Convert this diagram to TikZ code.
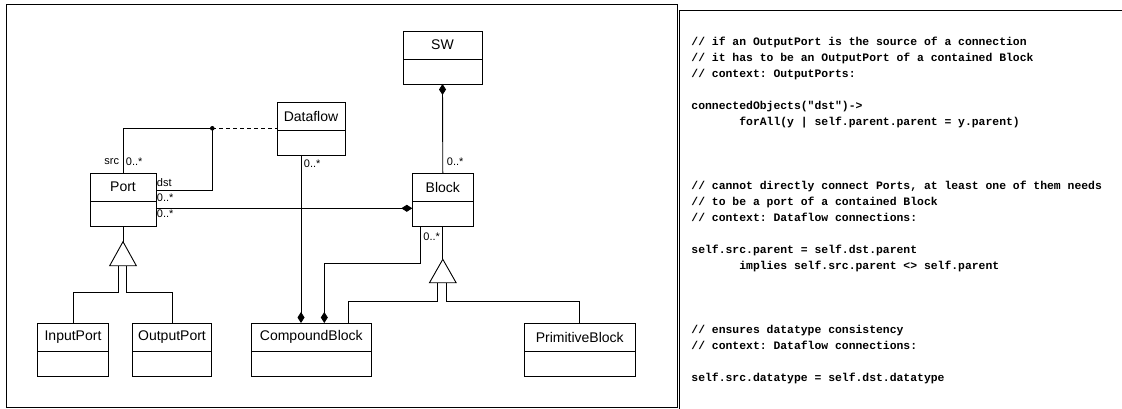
\documentclass[tikz,border=0pt]{standalone}
\usepackage{fontspec}
\setmainfont{Liberation Sans}
\setmonofont{Liberation Mono}
\usetikzlibrary{arrows.meta}

\begin{document}
\begin{tikzpicture}[x=1pt, y=-1pt, line width=0.9pt,
    classhead/.style={draw, fill=white, inner sep=0pt, outer sep=0pt, minimum height=28pt, font=\fontsize{14}{16}\selectfont},
    classbody/.style={draw, fill=white, inner sep=0pt, outer sep=0pt, minimum height=25pt},
    mult/.style={inner sep=0pt, font=\fontsize{11}{12}\selectfont},
    comp/.style={-{Diamond[length=11pt,width=7pt]}},
    owner/.style={{Diamond[length=11pt,width=7pt]}-},
    codeline/.style={anchor=base west, inner sep=0pt, font=\fontsize{11.4}{16}\selectfont\ttfamily\bfseries}]

  \useasboundingbox (0,0) rectangle (1122,409);

  % frames
  \draw (6,4) rectangle (677,407.5);
  \draw (679.5,409) |- (1122,10.7);

  % class boxes
  \foreach \n/\t/\x/\y/\w in {sw/SW/442.5/45/79, dataflow/Dataflow/311/116/68, port/Port/123/187/66, block/Block/442.8/187/61, inputport/InputPort/73/337/70.6, outputport/OutputPort/172/337/79.4, compound/CompoundBlock/311.3/337/119.3, primitive/PrimitiveBlock/579.7/337/110.7} {
    \node[classhead, minimum width=\w pt] (\n) at (\x,\y) {\t};
    \node[classbody, minimum width=\w pt, anchor=north] (\n-b) at (\n.south) {};
  }

  % src/dst association with Dataflow
  \coordinate (assoc) at (212.3,128.3);
  \draw (port.north) |- (assoc);
  \draw ([yshift=-3.8pt]port.east) -| (assoc);
  \fill (assoc) circle[radius=2.3pt];
  \draw[dash pattern=on 4pt off 3pt] (assoc) -- (assoc -| dataflow.west);

  % compositions
  \draw[owner] (sw-b.south) -- (block.north);
  \draw[comp] ([yshift=5.2pt]port-b.east) -- ([yshift=5.2pt]block-b.west);
  \draw[comp] ([xshift=-10pt]dataflow-b.south) -- ([xshift=-10pt]dataflow-b.south |- compound.north);
  \draw[comp] ([xshift=8.4pt]block-b.south west) -- ++(0,37.3) -| ([xshift=13pt]compound.north);

  % generalisations
  \path (port-b.south) ++(0,15.7) coordinate (portgen);
  \draw (port-b.south) -- (portgen);
  \draw (portgen) ++(-5,24) -- ++(0,27) -| (inputport.north);
  \draw (portgen) ++(3,24) -- ++(0,27) -| (outputport.north);
  \draw[fill=white] (portgen) -- ++(13.3,24) -- ++(-26.6,0) -- cycle;

  \path (block-b.south) ++(0,33.3) coordinate (blockgen);
  \draw (block-b.south) -- (blockgen);
  \draw (blockgen) ++(-5,23.4) -- ++(0,19) -| ([xshift=-22.7pt]compound.north east);
  \draw (blockgen) ++(3.3,23.4) -- ++(0,19) -| (primitive.north);
  \draw[fill=white] (blockgen) -- ++(13.3,23.4) -- ++(-26.6,0) -- cycle;

  % role names and multiplicities
  \node[mult, anchor=east] (srcrole) at (119.5,162) {src};
  \node[mult, anchor=west] (srcmult) at (125.5,162) {0..*};
  \node[mult, anchor=west] (dstrole) at (156.5,183) {dst};
  \node[mult, anchor=west] (dstmult) at (156.5,198) {0..*};
  \node[mult, anchor=west] (portmult) at (156.5,214) {0..*};
  \node[mult, anchor=west] (flowmult) at (303.5,164) {0..*};
  \node[mult, anchor=west] (blockmult) at (446.5,162) {0..*};
  \node[mult, anchor=west] (submult) at (423,236.7) {0..*};

  % constraints
  \foreach \l [count=\i from 0] in {{// if an OutputPort is the source of a connection}, {// it has to be an OutputPort of a contained Block}, {// context: OutputPorts:}, {}, {connectedObjects("dst")->}, {\hspace*{4.2em}forAll(y | self.parent.parent = y.parent)}, {}, {}, {}, {// cannot directly connect Ports, at least one of them needs}, {// to be a port of a contained Block}, {// context: Dataflow connections:}, {}, {self.src.parent = self.dst.parent}, {\hspace*{4.2em}implies self.src.parent <> self.parent}, {}, {}, {}, {// ensures datatype consistency}, {// context: Dataflow connections:}, {}, {self.src.datatype = self.dst.datatype}}
    \node[codeline] (code\i) at (691,45.5+16*\i) {\l};
\end{tikzpicture}
\end{document}
